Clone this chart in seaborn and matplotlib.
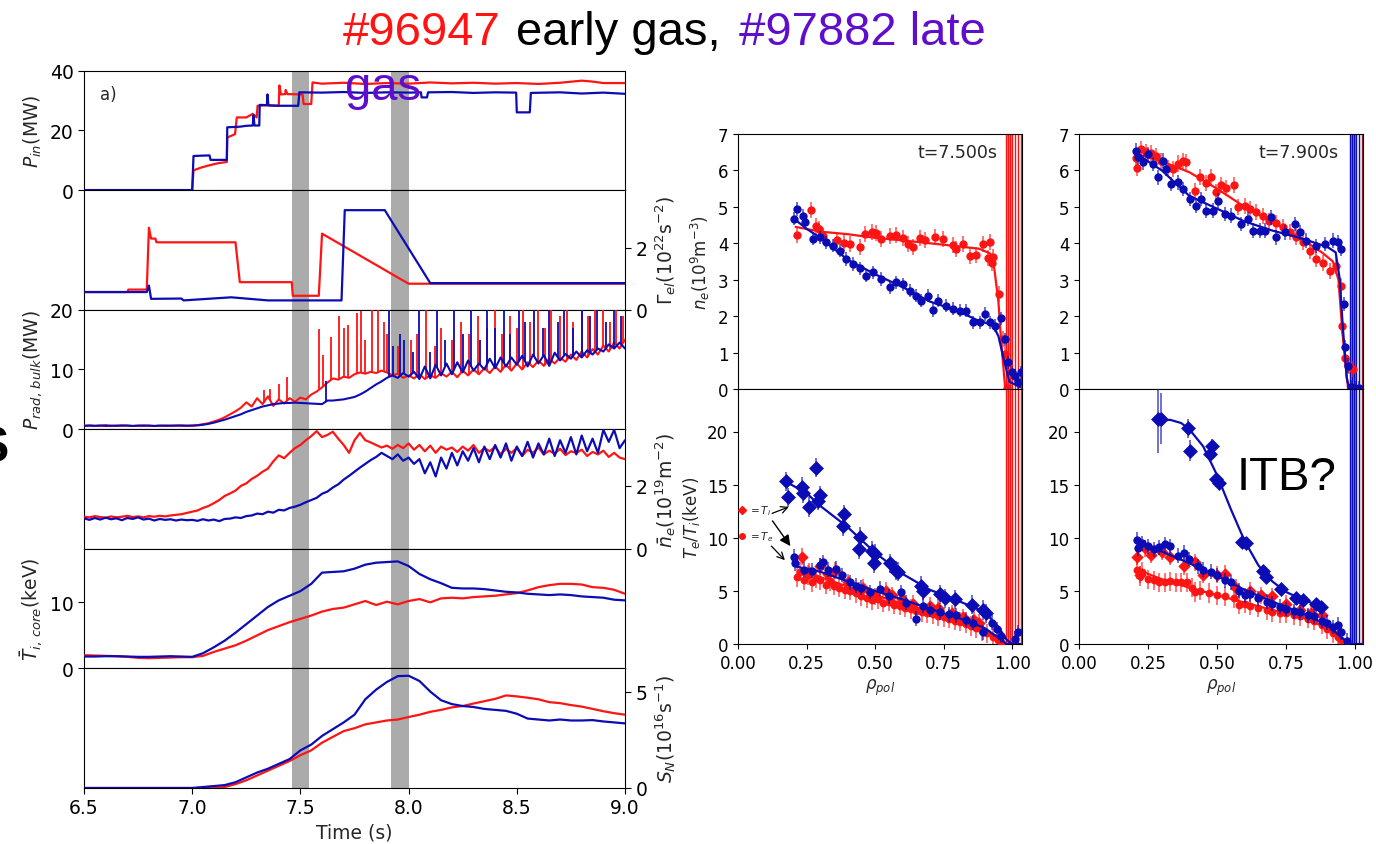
import numpy as np
import pandas as pd
import matplotlib
matplotlib.use("Agg")
import matplotlib.pyplot as plt
import seaborn as sns

sns.set_theme(style="ticks")
plt.rcParams['font.family'] = ['DejaVu Sans']
plt.rcParams['axes.edgecolor'] = 'black'
plt.rcParams['axes.linewidth'] = 1.0

RED = "#ff1414"
BLUE = "#0c0cb4"
PURPLE = "#5f0fcb"

# ------------------------------------------------------------------ time traces
t_lim = (6.5, 9.0)
bands = [(7.46, 7.54), (7.92, 8.00)]
t_x_ticks = [6.5, 7.0, 7.5, 8.0, 8.5, 9.0]

# P_in (MW): (time, value)
pin_red = [(6.5, 0), (7.0, 0), (7.006, 6.6), (7.04, 7.5), (7.08, 8.3), (7.12, 9.0), (7.16, 9.4),
           (7.162, 17.6), (7.198, 18.7), (7.206, 24.3), (7.25, 24.3), (7.28, 25.5), (7.298, 24.3),
           (7.302, 28.2), (7.35, 28.4), (7.40, 28.2), (7.403, 35.0), (7.41, 32.0), (7.43, 32.1),
           (7.432, 33.5), (7.44, 32.1), (7.51, 32.0), (7.515, 28.8), (7.55, 28.8), (7.556, 36.0),
           (7.6, 35.6), (7.7, 35.9), (7.8, 35.5), (7.9, 35.8), (8.0, 35.6), (8.1, 36.0), (8.2, 35.7),
           (8.3, 35.9), (8.4, 35.6), (8.5, 35.8), (8.6, 35.5), (8.7, 35.9), (8.8, 36.6), (8.85, 36.3),
           (8.9, 35.8), (9.0, 35.8)]
pin_blue = [(6.5, 0), (7.0, 0), (7.006, 11.4), (7.04, 11.5), (7.08, 11.6), (7.085, 10.1), (7.16, 10.1),
            (7.162, 21.0), (7.22, 21.2), (7.25, 21.5), (7.28, 21.6), (7.283, 25.0), (7.288, 21.6),
            (7.31, 21.6), (7.312, 28.5), (7.345, 28.4), (7.348, 32.0), (7.352, 28.3), (7.40, 28.2),
            (7.49, 28.2), (7.495, 32.7), (7.6, 32.6), (7.7, 32.8), (7.8, 32.5), (7.9, 32.7), (8.0, 32.6),
            (8.057, 32.7), (8.06, 31.0), (8.085, 31.0), (8.09, 32.7), (8.2, 32.8), (8.3, 32.5),
            (8.4, 32.7), (8.497, 32.6), (8.5, 26.0), (8.56, 26.0), (8.565, 32.5), (8.7, 32.7),
            (8.8, 32.3), (8.9, 32.6), (9.0, 32.2)]

# Gamma_el (1e22 s^-2)
gam_red = [(6.5, 0.57), (6.70, 0.57), (6.705, 0.65), (6.79, 0.65), (6.80, 2.65), (6.81, 2.30),
           (6.83, 2.30), (6.835, 2.18), (7.20, 2.18), (7.22, 0.89), (7.46, 0.89), (7.465, 0.45),
           (7.585, 0.45), (7.60, 2.46), (8.0, 0.84), (9.0, 0.84)]
gam_blue = [(6.5, 0.57), (6.79, 0.57), (6.80, 0.78), (6.81, 0.35), (6.95, 0.36), (6.96, 0.30),
            (7.18, 0.40), (7.35, 0.30), (7.69, 0.30), (7.705, 3.22), (7.89, 3.22), (8.10, 0.86),
            (9.0, 0.86)]

# sampled traces on a 0.025 s grid (101 samples) from 6.5 s
dt_fast = 0.025
prad_red = [0.6, 0.65, 0.55, 0.6, 0.7, 0.55, 0.6, 0.65, 0.6, 0.55, 0.6, 0.65, 0.6, 0.55, 0.6, 0.62,
            0.58, 0.6, 0.65, 0.6, 0.62, 0.7, 0.85, 1.0, 1.3, 1.6, 2.0, 2.5, 3.0, 3.6, 4.5, 3.8, 5.2,
            4.2, 5.5, 3.9, 5.0, 4.3, 5.2, 4.6, 5.3, 5.0, 5.8, 6.3, 7.0, 7.8, 8.5, 8.3, 8.8, 8.6, 9.2,
            9.5, 9.3, 9.6, 9.4, 9.8, 9.5, 9.0, 9.3, 8.6, 9.0, 8.5, 9.2, 8.4, 9.0, 8.6, 9.4, 8.8, 9.6,
            8.7, 9.8, 9.0, 10.0, 9.2, 10.2, 9.4, 10.5, 9.6, 10.8, 9.8, 11.0, 10.0, 11.2, 10.4, 11.5,
            10.6, 11.8, 11.0, 12.0, 11.3, 12.5, 11.6, 13.0, 12.0, 13.4, 12.5, 14.0, 13.0, 14.5, 13.5,
            15.0]
prad_blue = [0.55, 0.6, 0.58, 0.62, 0.55, 0.6, 0.58, 0.6, 0.62, 0.55, 0.6, 0.58, 0.6, 0.55, 0.6,
             0.58, 0.6, 0.62, 0.6, 0.58, 0.6, 0.65, 0.75, 0.9, 1.1, 1.35, 1.6, 1.9, 2.2, 2.5, 2.9,
             3.2, 3.5, 3.8, 4.0, 4.2, 4.3, 4.4, 4.4, 4.45, 4.4, 4.35, 4.3, 4.25, 4.2, 4.8, 4.8, 4.9,
             5.0, 5.2, 5.4, 5.8, 6.3, 6.9, 7.5, 8.0, 8.6, 9.0, 8.6, 9.4, 8.8, 9.6, 8.4, 10.5, 8.5,
             10.8, 9.0, 11.0, 9.2, 11.2, 9.5, 11.5, 9.8, 11.0, 10.0, 11.8, 10.2, 12.0, 10.5, 12.0,
             10.8, 12.3, 10.5, 12.5, 11.0, 12.4, 10.6, 12.8, 11.5, 12.6, 11.8, 13.0, 12.0, 13.2, 12.5,
             13.5, 13.0, 14.2, 13.5, 14.5, 13.5]
# radiation bursts: (time, peak MW)
prad_red_spikes = [(7.33, 6.5), (7.36, 6.8), (7.40, 7.5), (7.44, 8.8), (7.585, 16.8), (7.605, 12.5),
                   (7.64, 15.5), (7.68, 19.0), (7.70, 17.0), (7.72, 17.5), (7.76, 19.5), (7.78, 19.8),
                   (7.80, 15.0), (7.83, 20.0), (7.86, 20.0), (7.885, 18.0), (7.90, 16.0), (7.95, 14.0),
                   (8.01, 15.0), (8.04, 16.0), (8.08, 20.0), (8.12, 14.0), (8.15, 17.0), (8.20, 15.0),
                   (8.24, 18.0), (8.28, 16.0), (8.32, 19.0), (8.36, 17.0), (8.40, 20.0), (8.43, 16.0),
                   (8.47, 19.0), (8.50, 17.0), (8.53, 20.0), (8.56, 18.0), (8.60, 20.0), (8.63, 17.0),
                   (8.66, 20.0), (8.70, 19.0), (8.73, 20.0), (8.76, 18.0), (8.80, 20.0), (8.83, 19.0),
                   (8.86, 20.0), (8.90, 20.0), (8.93, 18.0), (8.96, 20.0), (8.99, 19.0)]
prad_blue_spikes = [(7.62, 8.0), (7.91, 20.0), (7.93, 14.0), (7.96, 16.0), (7.98, 15.0), (8.02, 13.0),
                    (8.05, 20.0), (8.10, 13.0), (8.13, 20.0), (8.17, 15.0), (8.21, 20.0), (8.25, 16.0),
                    (8.29, 20.0), (8.33, 15.0), (8.36, 20.0), (8.40, 17.0), (8.44, 20.0), (8.47, 16.0),
                    (8.51, 20.0), (8.54, 18.0), (8.58, 20.0), (8.62, 17.0), (8.65, 20.0), (8.69, 18.0),
                    (8.72, 20.0), (8.76, 17.0), (8.80, 20.0), (8.84, 19.0), (8.87, 20.0), (8.91, 18.0),
                    (8.95, 20.0), (8.98, 19.0)]

ne_red = [1.02, 1.00, 1.04, 1.01, 0.99, 1.03, 1.00, 1.02, 1.05, 1.01, 1.03, 1.00, 1.04, 1.02, 1.05,
          1.03, 1.06, 1.08, 1.10, 1.14, 1.18, 1.22, 1.30, 1.36, 1.45, 1.55, 1.68, 1.76, 1.85, 2.00,
          2.08, 2.22, 2.32, 2.45, 2.55, 2.78, 2.97, 2.88, 3.05, 3.20, 3.30, 3.45, 3.58, 3.74, 3.55,
          3.62, 3.72, 3.50, 3.30, 3.05, 3.45, 3.68, 3.45, 3.38, 3.30, 3.22, 3.28, 3.18, 3.30, 3.20,
          3.35, 3.15, 3.30, 3.10, 3.28, 3.05, 3.25, 3.15, 3.22, 3.08, 3.25, 3.12, 3.30, 3.05, 3.20,
          3.10, 3.25, 3.00, 3.18, 3.05, 3.20, 2.95, 3.15, 3.05, 3.22, 3.00, 3.12, 3.02, 3.18, 2.98,
          3.10, 3.05, 3.15, 2.95, 3.08, 3.00, 3.12, 2.92, 3.05, 2.90, 2.85]
ne_blue = [0.97, 0.92, 0.98, 0.93, 0.99, 0.94, 0.97, 0.91, 0.98, 0.95, 1.00, 0.93, 0.96, 0.90, 0.95,
           0.92, 0.94, 0.90, 0.93, 0.91, 0.92, 0.89, 0.94, 0.90, 0.93, 0.88, 0.95, 0.96, 1.00, 0.98,
           1.04, 1.06, 1.12, 1.10, 1.18, 1.15, 1.24, 1.22, 1.30, 1.34, 1.40, 1.48, 1.55, 1.62, 1.75,
           1.82, 1.95, 2.05, 2.20, 2.32, 2.45, 2.58, 2.70, 2.82, 2.92, 3.05, 2.95, 2.85, 3.00, 2.80,
           2.90, 2.70, 2.85, 2.40, 2.75, 2.30, 2.90, 2.55, 3.05, 2.65, 3.10, 2.80, 3.20, 2.75, 3.25,
           2.85, 3.30, 2.90, 3.35, 2.80, 3.25, 2.95, 3.40, 2.90, 3.35, 3.00, 3.50, 2.95, 3.45, 3.05,
           3.55, 3.00, 3.60, 3.10, 3.50, 3.05, 3.78, 3.40, 3.78, 3.20, 3.45]

# sampled traces on a 0.05 s grid (51 samples) from 6.5 s
dt_slow = 0.05
ti_red = [2.0, 1.95, 1.9, 1.85, 1.75, 1.6, 1.55, 1.6, 1.65, 1.7, 1.7, 1.9, 2.5, 3.0, 3.5, 4.2, 5.0,
          5.8, 6.4, 7.0, 7.5, 8.0, 8.6, 9.0, 9.2, 9.7, 10.2, 9.6, 10.1, 9.7, 10.2, 10.5, 10.0, 10.6,
          10.7, 10.6, 10.8, 10.9, 11.0, 11.2, 11.4, 11.8, 12.3, 12.6, 12.8, 12.8, 12.7, 12.3, 12.2,
          11.9, 11.3]
ti_blue = [1.8, 1.8, 1.85, 1.85, 1.8, 1.75, 1.75, 1.8, 1.85, 1.8, 1.75, 2.3, 3.2, 4.2, 5.4, 6.7, 8.0,
           9.3, 10.3, 11.0, 11.7, 12.8, 14.5, 14.6, 14.7, 15.1, 15.7, 16.0, 16.1, 16.2, 15.5, 14.3,
           13.5, 12.9, 12.2, 12.1, 12.1, 12.0, 11.8, 11.6, 11.5, 11.3, 11.2, 11.1, 11.2, 11.1, 10.9,
           10.8, 10.7, 10.4, 10.3]
sn_red = [0, 0, 0, 0, 0, 0, 0, 0, 0, 0, 0, 0, 0, 0.05, 0.2, 0.4, 0.65, 0.9, 1.15, 1.4, 1.7, 1.95,
          2.35, 2.65, 2.95, 3.1, 3.3, 3.4, 3.5, 3.55, 3.68, 3.8, 3.95, 4.05, 4.18, 4.25, 4.38, 4.5,
          4.62, 4.8, 4.75, 4.68, 4.6, 4.45, 4.4, 4.3, 4.22, 4.1, 3.98, 3.88, 3.8]
sn_blue = [0, 0, 0, 0, 0, 0, 0, 0, 0, 0, 0, 0.05, 0.1, 0.15, 0.3, 0.55, 0.8, 1.0, 1.25, 1.5, 1.95,
           2.25, 2.7, 3.05, 3.4, 3.8, 4.6, 5.1, 5.5, 5.8, 5.82, 5.55, 5.0, 4.55, 4.35, 4.25, 4.2, 4.1,
           4.05, 4.0, 3.85, 3.6, 3.55, 3.5, 3.55, 3.5, 3.5, 3.52, 3.45, 3.4, 3.35]

# ------------------------------------------------------------------ profiles (rho_pol, value)
ne_750_red = [(0.215, 4.23), (0.268, 4.92), (0.285, 4.47), (0.295, 4.40), (0.31, 4.21), (0.36, 4.10),
              (0.385, 4.00), (0.41, 3.98), (0.445, 3.90), (0.462, 4.25), (0.487, 4.32), (0.505, 4.28),
              (0.523, 4.12), (0.553, 4.21), (0.578, 4.22), (0.602, 4.14), (0.62, 3.98), (0.638, 3.89),
              (0.663, 4.14), (0.681, 4.10), (0.718, 4.17), (0.748, 4.12), (0.785, 3.95), (0.797, 3.84),
              (0.821, 3.98), (0.845, 3.66), (0.87, 3.68), (0.894, 3.98), (0.912, 3.60), (0.918, 4.03),
              (0.928, 3.45), (0.932, 3.62), (0.953, 2.61), (0.967, 1.37), (0.973, 0.96), (0.980, 0.02)]
ne_750_blue = [(0.203, 4.67), (0.215, 4.94), (0.237, 4.76), (0.243, 4.58), (0.274, 4.12), (0.298, 4.16),
               (0.322, 4.03), (0.347, 3.93), (0.371, 3.80), (0.395, 3.57), (0.42, 3.43), (0.444, 3.31),
               (0.468, 3.11), (0.493, 3.20), (0.523, 3.02), (0.554, 2.79), (0.578, 2.93), (0.602, 2.88),
               (0.626, 2.70), (0.651, 2.56), (0.669, 2.42), (0.693, 2.56), (0.712, 2.17), (0.73, 2.42),
               (0.76, 2.29), (0.785, 2.20), (0.81, 2.15), (0.833, 2.15), (0.858, 1.83), (0.882, 1.83),
               (0.9, 2.06), (0.918, 1.83), (0.937, 1.74), (0.961, 1.94), (0.973, 1.37), (0.985, 0.73),
               (0.998, 0.46), (1.01, 0.37), (1.022, 0.18), (1.034, 0.46)]
ne_750_red_fit = [(0.21, 4.45), (0.3, 4.32), (0.4, 4.25), (0.5, 4.15), (0.6, 4.08), (0.7, 4.0),
                  (0.8, 3.92), (0.88, 3.85), (0.92, 3.72), (0.935, 3.3), (0.95, 2.4), (0.96, 1.3),
                  (0.975, 0.0)]
ne_750_blue_fit = [(0.2, 4.7), (0.25, 4.4), (0.3, 4.15), (0.4, 3.55), (0.5, 3.15), (0.6, 2.8),
                   (0.7, 2.4), (0.8, 2.15), (0.87, 1.9), (0.93, 1.75), (0.95, 1.45), (0.97, 0.8),
                   (0.99, 0.2), (1.03, 0.05)]

ne_790_red = [(0.208, 6.33), (0.21, 6.08), (0.226, 6.59), (0.244, 6.5), (0.262, 6.48), (0.28, 6.4),
              (0.298, 6.27), (0.322, 6.06), (0.34, 6.04), (0.359, 6.19), (0.377, 6.27), (0.389, 6.24),
              (0.419, 5.44), (0.437, 5.81), (0.459, 5.65), (0.479, 5.81), (0.498, 5.4), (0.516, 5.6),
              (0.534, 5.53), (0.56, 5.6), (0.576, 5.0), (0.6, 5.03), (0.618, 4.94), (0.643, 4.85),
              (0.667, 4.76), (0.69, 4.62), (0.715, 4.56), (0.739, 4.44), (0.763, 4.3), (0.787, 4.16),
              (0.812, 4.03), (0.836, 3.8), (0.86, 3.57), (0.884, 3.46), (0.908, 3.25), (0.932, 3.39),
              (0.95, 2.84), (0.954, 1.74), (0.963, 0.84), (0.98, 0.64), (0.993, 0.55)]
ne_790_blue = [(0.208, 6.54), (0.214, 6.36), (0.232, 6.22), (0.25, 6.45), (0.268, 6.18), (0.286, 5.81),
               (0.304, 6.27), (0.316, 6.04), (0.335, 5.63), (0.359, 5.67), (0.377, 5.49), (0.401, 5.22),
               (0.425, 5.03), (0.443, 5.22), (0.461, 4.9), (0.486, 4.9), (0.504, 5.17), (0.528, 4.8),
               (0.552, 4.76), (0.588, 4.53), (0.612, 4.67), (0.63, 4.35), (0.655, 4.35), (0.673, 4.35),
               (0.697, 4.71), (0.715, 4.16), (0.745, 4.3), (0.781, 4.53), (0.8, 4.3), (0.824, 4.07),
               (0.86, 3.93), (0.89, 3.98), (0.92, 4.07), (0.938, 4.03), (0.95, 3.84), (0.959, 2.33),
               (0.963, 1.14), (0.975, 0.64), (0.987, 0.05), (1.0, 0.03), (1.015, 0.03)]
ne_790_red_fit = [(0.21, 6.45), (0.3, 6.25), (0.4, 5.95), (0.5, 5.5), (0.6, 5.0), (0.7, 4.6),
                  (0.8, 4.15), (0.88, 3.75), (0.92, 3.5), (0.94, 3.0), (0.955, 1.5), (0.975, 0.0)]
ne_790_blue_fit = [(0.21, 6.45), (0.3, 6.0), (0.4, 5.3), (0.5, 4.95), (0.6, 4.6), (0.7, 4.35),
                   (0.8, 4.15), (0.9, 3.9), (0.93, 3.75), (0.945, 3.0), (0.955, 1.8), (0.97, 0.3),
                   (0.98, 0.0), (1.03, 0.0)]

ti_750_blue = [(0.176, 15.3), (0.182, 13.8), (0.235, 14.8), (0.237, 14.2), (0.259, 12.9), (0.286, 16.6),
               (0.298, 14.0), (0.292, 13.5), (0.386, 12.2), (0.383, 11.1), (0.444, 10.1), (0.442, 8.9),
               (0.487, 8.8), (0.495, 7.6), (0.5, 8.5), (0.554, 7.6), (0.578, 6.9), (0.584, 6.8),
               (0.669, 5.5), (0.675, 5.0), (0.736, 4.7), (0.754, 4.3), (0.79, 4.2), (0.852, 3.7),
               (0.894, 3.2), (0.906, 2.9)]
te_750_blue = [(0.203, 8.2), (0.207, 7.6), (0.24, 7.0), (0.27, 6.9), (0.298, 7.4), (0.31, 7.7),
               (0.33, 7.0), (0.359, 7.1), (0.38, 6.5), (0.408, 5.8), (0.43, 5.5), (0.45, 5.3),
               (0.48, 4.9), (0.517, 5.2), (0.55, 4.5), (0.596, 4.9), (0.614, 3.9), (0.651, 2.4),
               (0.675, 3.6), (0.70, 3.2), (0.736, 3.0), (0.77, 2.8), (0.797, 2.7), (0.83, 2.3),
               (0.858, 2.0), (0.894, 1.1), (0.925, 2.0), (0.943, 1.4), (0.96, 0.8), (1.01, 0.5),
               (1.022, 1.1)]
ti_750_red = [(0.235, 8.2), (0.26, 6.8), (0.30, 7.3), (0.33, 6.6), (0.355, 6.9), (0.40, 5.8),
              (0.44, 5.0), (0.455, 5.3), (0.50, 4.5), (0.54, 5.0), (0.56, 4.6), (0.60, 4.2), (0.64, 3.8),
              (0.70, 3.6), (0.73, 3.4), (0.78, 2.9), (0.82, 2.5), (0.86, 2.3), (0.88, 2.0)]
te_750_red = [(0.215, 6.3), (0.225, 6.8), (0.24, 6.0), (0.255, 6.5), (0.27, 5.8), (0.285, 6.2),
              (0.30, 6.0), (0.32, 5.6), (0.335, 5.9), (0.35, 5.5), (0.37, 5.3), (0.39, 5.1), (0.41, 5.0),
              (0.43, 4.8), (0.45, 4.5), (0.47, 4.3), (0.49, 4.1), (0.51, 4.2), (0.53, 3.9), (0.55, 4.0),
              (0.57, 3.7), (0.59, 3.6), (0.61, 3.4), (0.63, 3.3), (0.65, 3.1), (0.67, 3.0), (0.69, 2.9),
              (0.71, 2.8), (0.73, 2.6), (0.75, 2.5), (0.77, 2.4), (0.79, 2.2), (0.81, 2.1), (0.83, 1.9),
              (0.85, 1.7), (0.87, 1.5), (0.89, 1.2), (0.91, 1.0), (0.93, 0.7), (0.95, 0.4), (0.96, 0.2)]
ti_750_blue_fit = [(0.18, 15.2), (0.25, 14.2), (0.3, 13.0), (0.4, 11.0), (0.5, 8.6), (0.6, 6.6),
                   (0.7, 5.1), (0.8, 4.1), (0.9, 3.0), (0.95, 1.6), (0.98, 0.4), (1.0, 0.0)]
te_750_blue_fit = [(0.21, 7.3), (0.3, 6.8), (0.4, 5.9), (0.5, 5.0), (0.6, 4.2), (0.7, 3.3), (0.8, 2.5),
                   (0.9, 1.5), (0.96, 0.4), (0.98, 0.0), (1.03, 0.0)]
te_750_red_fit = [(0.22, 6.9), (0.3, 6.3), (0.4, 5.4), (0.5, 4.6), (0.6, 3.8), (0.7, 3.1), (0.8, 2.4),
                  (0.9, 1.4), (0.96, 0.3), (0.98, 0.0)]

ti_790_blue = [(0.286, 21.2), (0.298, 21.2), (0.395, 20.3), (0.403, 18.2), (0.473, 17.9), (0.482, 18.6),
               (0.498, 15.5), (0.507, 15.2), (0.592, 9.6), (0.606, 9.5), (0.667, 6.9), (0.679, 6.3),
               (0.733, 5.2), (0.787, 4.3), (0.812, 4.1), (0.86, 3.8), (0.878, 3.5)]
ti_790_blue_err = [3.2, 2.4, 0.9, 1.0, 0.8, 0.7, 0.7, 0.7, 0.6, 0.6, 0.5, 0.5, 0.5, 0.5, 0.5, 0.4, 0.4]
te_790_blue = [(0.21, 9.8), (0.215, 9.0), (0.23, 9.5), (0.25, 9.2), (0.27, 8.9), (0.29, 9.1), (0.31, 9.4),
               (0.33, 9.2), (0.36, 8.3), (0.38, 8.6), (0.40, 8.0), (0.43, 7.3), (0.45, 7.0), (0.48, 6.8),
               (0.50, 6.5), (0.53, 6.0), (0.55, 5.8), (0.58, 5.0), (0.60, 4.6), (0.62, 4.7), (0.65, 4.3),
               (0.68, 4.0), (0.70, 3.8), (0.73, 3.5), (0.75, 3.3), (0.78, 3.1), (0.80, 3.0), (0.83, 2.7),
               (0.85, 2.6), (0.88, 2.2), (0.90, 2.0), (0.92, 1.6), (0.94, 1.8), (0.95, 1.1), (0.97, 0.3)]
ti_790_red = [(0.21, 8.2), (0.22, 6.5), (0.24, 9.0), (0.26, 8.4), (0.30, 8.7), (0.33, 8.2), (0.38, 7.3),
              (0.42, 7.7), (0.45, 6.5), (0.50, 6.5), (0.53, 6.6), (0.57, 5.3), (0.62, 5.0), (0.66, 4.6),
              (0.70, 4.5), (0.75, 3.8), (0.80, 3.2), (0.84, 2.9), (0.88, 2.7)]
te_790_red = [(0.21, 7.0), (0.22, 6.4), (0.23, 6.8), (0.25, 6.1), (0.27, 6.0), (0.29, 5.8), (0.31, 5.8),
              (0.33, 5.9), (0.35, 5.8), (0.37, 5.8), (0.39, 5.8), (0.41, 5.3), (0.42, 4.9), (0.44, 5.0),
              (0.47, 4.8), (0.50, 4.6), (0.53, 4.5), (0.56, 4.3), (0.58, 3.7), (0.60, 3.8), (0.62, 3.6),
              (0.65, 3.4), (0.68, 3.2), (0.70, 3.0), (0.73, 2.9), (0.75, 2.9), (0.78, 2.7), (0.80, 2.6),
              (0.83, 2.4), (0.85, 2.2), (0.88, 1.8), (0.90, 1.4), (0.92, 1.0), (0.94, 0.7), (0.95, 0.4)]
ti_790_blue_fit = [(0.29, 21.0), (0.33, 21.1), (0.37, 20.8), (0.40, 20.2), (0.45, 18.6), (0.50, 15.9),
                   (0.55, 12.7), (0.60, 9.7), (0.65, 7.4), (0.70, 5.9), (0.75, 4.9), (0.80, 4.3),
                   (0.85, 3.8), (0.88, 3.4)]
te_790_blue_fit = [(0.21, 9.5), (0.3, 8.7), (0.4, 7.6), (0.5, 6.4), (0.6, 5.1), (0.7, 4.0), (0.8, 3.0),
                   (0.9, 1.8), (0.96, 0.4), (0.98, 0.0), (1.03, 0.0)]
te_790_red_fit = [(0.21, 7.0), (0.3, 6.1), (0.4, 5.3), (0.5, 4.6), (0.6, 3.9), (0.7, 3.2), (0.8, 2.6),
                  (0.9, 1.5), (0.97, 0.0)]

# separatrix / boundary lines
sep_750_red = [0.979, 0.985, 0.991, 0.998, 1.010, 1.022, 1.034]
sep_790_blue = [0.983, 0.989, 0.995, 1.002, 1.014]
sep_790_red = [1.026]

# ------------------------------------------------------------------ helpers
W, H = 1376, 845
fig = plt.figure(figsize=(W / 100, H / 100), dpi=100)


def frac_x(px):
    return px / W


def frac_y(py):
    return 1 - py / H


def line(ax, pairs, color, lw=1.6, z=3):
    df = pd.DataFrame(pairs, columns=["x", "y"])
    sns.lineplot(data=df, x="x", y="y", ax=ax, color=color, lw=lw, estimator=None,
                 sort=False, zorder=z, legend=False)


def grid_line(ax, values, dt, color, lw=1.6):
    df = pd.DataFrame({"t": t_lim[0] + dt * np.arange(len(values)), "v": values})
    sns.lineplot(data=df, x="t", y="v", ax=ax, color=color, lw=lw, estimator=None,
                 sort=False, zorder=3, legend=False)
    return df


def points(ax, pairs, color, marker, size, err, z=3):
    df = pd.DataFrame(pairs, columns=["x", "y"])
    ax.errorbar(df["x"], df["y"], yerr=err, fmt="none", ecolor=color, elinewidth=1.1,
                alpha=0.75, zorder=z - 1)
    sns.scatterplot(data=df, x="x", y="y", ax=ax, color=color, marker=marker, s=size,
                    linewidth=0, zorder=z, legend=False)


# ------------------------------------------------------------------ left stack
L_left, L_right = 84, 625
L_top, L_bot = 71.5, 789
n_pan = 6
axes = []
for i in range(n_pan):
    top = L_top + i * (L_bot - L_top) / n_pan
    bot = L_top + (i + 1) * (L_bot - L_top) / n_pan
    ax = fig.add_axes([frac_x(L_left), frac_y(bot), frac_x(L_right - L_left), frac_y(top) - frac_y(bot)])
    axes.append(ax)

specs = [
    dict(ylim=(0, 40), ticks=[0, 20, 40], side="left", label=r"$P_{in}$(MW)"),
    dict(ylim=(0, 3.87), ticks=[0, 2], side="right", label=r"$\Gamma_{el}(10^{22}\mathrm{s}^{-2})$"),
    dict(ylim=(0, 20), ticks=[0, 10, 20], side="left", label=r"$P_{rad,\,bulk}$(MW)"),
    dict(ylim=(0, 3.8), ticks=[0, 2], side="right", label=r"$\bar{n}_e(10^{19}\mathrm{m}^{-2})$"),
    dict(ylim=(0, 18.1), ticks=[0, 10], side="left", label=r"$\bar{T}_{i,\,core}$(keV)"),
    dict(ylim=(0, 6.2), ticks=[0, 5], side="right", label=r"$S_N(10^{16}\mathrm{s}^{-1})$"),
]

for ax, sp in zip(axes, specs):
    for b0, b1 in bands:
        ax.axvspan(b0, b1, color="#ababab", lw=0, zorder=0.5)

line(axes[0], pin_red, RED)
line(axes[0], pin_blue, BLUE)
line(axes[1], gam_red, RED)
line(axes[1], gam_blue, BLUE)
dfr = grid_line(axes[2], prad_red, dt_fast, RED, lw=1.5)
st = [s[0] for s in prad_red_spikes]
axes[2].vlines(st, np.interp(st, dfr["t"], dfr["v"]), [s[1] for s in prad_red_spikes],
               color=RED, lw=1.3, zorder=3)
dfb = grid_line(axes[2], prad_blue, dt_fast, BLUE, lw=1.5)
st = [s[0] for s in prad_blue_spikes]
axes[2].vlines(st, np.interp(st, dfb["t"], dfb["v"]), [s[1] for s in prad_blue_spikes],
               color=BLUE, lw=1.3, zorder=3.5)
grid_line(axes[3], ne_red, dt_fast, RED, lw=1.6)
grid_line(axes[3], ne_blue, dt_fast, BLUE, lw=1.6)
grid_line(axes[4], ti_red, dt_slow, RED, lw=1.6)
grid_line(axes[4], ti_blue, dt_slow, BLUE, lw=1.6)
grid_line(axes[5], sn_red, dt_slow, RED, lw=1.6)
grid_line(axes[5], sn_blue, dt_slow, BLUE, lw=1.6)

for i, (ax, sp) in enumerate(zip(axes, specs)):
    ax.set_xlim(*t_lim)
    ax.set_ylim(*sp["ylim"])
    ax.set_yticks(sp["ticks"])
    ax.set_xticks(t_x_ticks)
    ax.set_xlabel("")
    ax.set_ylabel(sp["label"], fontsize=13.5)
    ax.tick_params(axis="both", labelsize=13.5, length=4, width=0.8, colors="black")
    if sp["side"] == "right":
        ax.yaxis.tick_right()
        ax.yaxis.set_label_position("right")
    if i < n_pan - 1:
        ax.tick_params(axis="x", labelbottom=False, length=0)
    for s in ax.spines.values():
        s.set_color("black")
        s.set_linewidth(0.8)
    ax.set_facecolor("white")

axes[-1].set_xlabel("Time (s)", fontsize=13.5)
axes[0].text(0.03, 0.8, "a)", transform=axes[0].transAxes, fontsize=12, va="center")

# ------------------------------------------------------------------ right profiles
R_top, R_mid, R_bot = 135, 390, 645
cols = [(738, 1022), (1079, 1363)]
prof_axes = []
for (xl, xr) in cols:
    a_top = fig.add_axes([frac_x(xl), frac_y(R_mid), frac_x(xr - xl), frac_y(R_top) - frac_y(R_mid)])
    a_bot = fig.add_axes([frac_x(xl), frac_y(R_bot), frac_x(xr - xl), frac_y(R_mid) - frac_y(R_bot)])
    prof_axes.append((a_top, a_bot))

(n1, T1), (n2, T2) = prof_axes

# column 1 (t = 7.5 s)
for a in (n1, T1):
    a.axvspan(sep_750_red[0], sep_750_red[3], color=RED, alpha=0.45, lw=0, zorder=1)
    for xv in sep_750_red:
        a.axvline(xv, color=RED, lw=1.0, zorder=1)
points(n1, ne_750_red, RED, "o", 36, 0.22)
line(n1, ne_750_red_fit, RED, lw=1.6, z=4)
points(n1, ne_750_blue, BLUE, "o", 36, 0.18, z=5)
line(n1, ne_750_blue_fit, BLUE, lw=1.6, z=6)

points(T1, te_750_red, RED, "o", 32, 0.9)
points(T1, ti_750_red, RED, "D", 40, 0.8)
line(T1, te_750_red_fit, RED, lw=1.6, z=4)
points(T1, te_750_blue, BLUE, "o", 36, 0.7, z=5)
points(T1, ti_750_blue, BLUE, "D", 58, 0.9, z=5)
line(T1, te_750_blue_fit, BLUE, lw=1.6, z=6)
line(T1, ti_750_blue_fit, BLUE, lw=1.6, z=6)

# column 2 (t = 7.9 s)
for a in (n2, T2):
    a.axvspan(sep_790_blue[0], sep_790_blue[3], color=BLUE, alpha=0.45, lw=0, zorder=1)
    for xv in sep_790_blue:
        a.axvline(xv, color=BLUE, lw=1.0, zorder=1)
    for xv in sep_790_red:
        a.axvline(xv, color="#a02020", lw=1.0, zorder=1)
points(n2, ne_790_red, RED, "o", 36, 0.22)
line(n2, ne_790_red_fit, RED, lw=1.6, z=4)
points(n2, ne_790_blue, BLUE, "o", 36, 0.2, z=5)
line(n2, ne_790_blue_fit, BLUE, lw=1.6, z=6)

points(T2, te_790_red, RED, "o", 32, 0.9)
points(T2, ti_790_red, RED, "D", 40, 0.8)
line(T2, te_790_red_fit, RED, lw=1.6, z=4)
points(T2, te_790_blue, BLUE, "o", 36, 0.7, z=5)
df_ti = pd.DataFrame(ti_790_blue, columns=["x", "y"])
T2.errorbar(df_ti["x"], df_ti["y"], yerr=ti_790_blue_err, fmt="none", ecolor=BLUE,
            elinewidth=1.1, alpha=0.75, zorder=4)
sns.scatterplot(data=df_ti, x="x", y="y", ax=T2, color=BLUE, marker="D", s=58,
                linewidth=0, zorder=5, legend=False)
line(T2, te_790_blue_fit, BLUE, lw=1.6, z=6)
line(T2, ti_790_blue_fit, BLUE, lw=1.6, z=6)

for (a_top, a_bot), xmax in zip(prof_axes, (1.036, 1.029)):
    for a in (a_top, a_bot):
        a.set_xlim(0, xmax)
        a.set_xticks([0.0, 0.25, 0.5, 0.75, 1.0])
        a.tick_params(axis="both", labelsize=12, length=3.5, width=0.8, colors="black")
        a.set_xlabel("")
        a.set_ylabel("")
        for s in a.spines.values():
            s.set_color("black")
            s.set_linewidth(0.8)
    a_top.set_ylim(0, 7)
    a_top.set_yticks(range(0, 8))
    a_top.tick_params(axis="x", labelbottom=False)
    a_bot.set_ylim(0, 24)
    a_bot.set_yticks([0, 5, 10, 15, 20])
    a_bot.xaxis.set_major_formatter(matplotlib.ticker.FormatStrFormatter("%.2f"))
    a_bot.set_xlabel(r"$\rho_{pol}$", fontsize=12)

n1.set_ylabel(r"$n_e(10^{9}\mathrm{m}^{-3})$", fontsize=12)
T1.set_ylabel(r"$T_e/T_i$(keV)", fontsize=12)
n1.text(0.915, 0.93, "t=7.500s", transform=n1.transAxes, ha="right", va="center", fontsize=12.5)
n2.text(0.915, 0.93, "t=7.900s", transform=n2.transAxes, ha="right", va="center", fontsize=12.5)

# legend-like annotation in T1
T1.plot([0.016], [12.6], marker="D", color=RED, ms=4, zorder=6, clip_on=False)
T1.plot([0.016], [10.2], marker="o", color=RED, ms=4, zorder=6, clip_on=False)
T1.text(0.035, 12.6, r"$=T_i$", fontsize=7.5, va="center")
T1.text(0.035, 10.2, r"$=T_e$", fontsize=7.5, va="center")
T1.annotate("", xy=(0.195, 13.0), xytext=(0.115, 12.2),
            arrowprops=dict(arrowstyle="->", color="black", lw=0.9))
T1.annotate("", xy=(0.197, 9.0), xytext=(0.12, 11.8),
            arrowprops=dict(arrowstyle="-|>", color="black", lw=1.0, mutation_scale=16))
T1.annotate("", xy=(0.178, 7.7), xytext=(0.115, 9.4),
            arrowprops=dict(arrowstyle="->", color="black", lw=0.9))

T2.text(0.555, 0.608, "ITB?", transform=T2.transAxes, fontsize=34, va="baseline",
        family=["Liberation Sans", "DejaVu Sans"], color="black")

# ------------------------------------------------------------------ title
tfam = ["Liberation Sans", "DejaVu Sans"]
fig.text(frac_x(343), frac_y(45), "#96947", color=RED, fontsize=34, family=tfam, va="baseline")
fig.text(frac_x(516), frac_y(45), "early gas,", color="black", fontsize=34, family=tfam, va="baseline")
fig.text(frac_x(739), frac_y(45), "#97882 late", color=PURPLE, fontsize=34, family=tfam, va="baseline")
fig.text(frac_x(345), frac_y(100), "gas", color=PURPLE, fontsize=34, family=tfam, va="baseline", zorder=10)
fig.text(frac_x(-24), frac_y(462), "S", color="black", fontsize=36, fontweight="bold",
         family=tfam, va="baseline")

fig.savefig("out.png", dpi=100, facecolor="white")
